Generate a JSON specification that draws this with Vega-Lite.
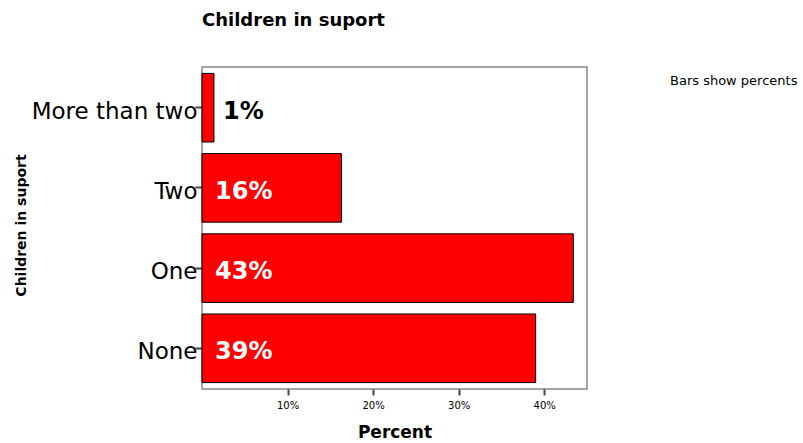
{
  "$schema": "https://vega.github.io/schema/vega-lite/v6.json",
  "autosize": "none",
  "width": 385,
  "height": 322,
  "padding": {"left": 202, "top": 67, "right": 216, "bottom": 54},
  "background": "white",
  "title": {
    "text": "Children in suport",
    "anchor": "start",
    "frame": "group",
    "font": "DejaVu Sans",
    "fontSize": 18,
    "fontWeight": "bold",
    "color": "black",
    "baseline": "alphabetic",
    "offset": 23
  },
  "config": {
    "view": {"stroke": "#888888", "strokeWidth": 1.5},
    "axis": {"grid": false, "domain": false}
  },
  "data": {
    "values": [
      {"category": "More than two", "percent": 1.4, "label": "1%"},
      {"category": "Two", "percent": 16.3, "label": "16%"},
      {"category": "One", "percent": 43.4, "label": "43%"},
      {"category": "None", "percent": 39.0, "label": "39%"}
    ]
  },
  "encoding": {
    "y": {
      "field": "category",
      "type": "nominal",
      "sort": ["More than two", "Two", "One", "None"],
      "scale": {"paddingInner": 0.145, "paddingOuter": 0.08},
      "axis": {
        "title": "Children in suport",
        "titleFont": "DejaVu Sans",
        "titleFontSize": 14,
        "titleFontWeight": "bold",
        "titleColor": "black",
        "titleX": -181,
        "titleY": 158,
        "titleAngle": -90,
        "titleAlign": "center",
        "titleBaseline": "middle",
        "labelFont": "DejaVu Sans",
        "labelFontSize": 23,
        "labelColor": "black",
        "labelPadding": -2,
        "labelOffset": 4,
        "tickSize": 7,
        "tickWidth": 2,
        "tickColor": "#444444"
      }
    }
  },
  "layer": [
    {
      "mark": {"type": "bar", "stroke": "black", "strokeWidth": 1},
      "encoding": {
        "x": {
          "field": "percent",
          "type": "quantitative",
          "scale": {"domain": [0, 45], "nice": false},
          "axis": {
            "values": [10, 20, 30, 40],
            "labelExpr": "datum.value + '%'",
            "title": "Percent",
            "titleFont": "DejaVu Sans",
            "titleFontSize": 17,
            "titleFontWeight": "bold",
            "titleColor": "black",
            "titlePadding": 14,
            "labelFont": "DejaVu Sans",
            "labelFontSize": 10,
            "labelColor": "black",
            "labelPadding": 5,
            "tickSize": 6,
            "tickWidth": 2,
            "tickColor": "#444444"
          }
        },
        "color": {
          "datum": "bar",
          "scale": {"range": ["#ff0000"]},
          "legend": {
            "title": "Bars show percents",
            "titleFont": "DejaVu Sans",
            "titleFontSize": 13,
            "titleFontWeight": "normal",
            "titleColor": "black",
            "labelExpr": "''",
            "symbolOpacity": 0,
            "symbolStrokeWidth": 0,
            "orient": "none",
            "legendX": 468,
            "legendY": 8
          }
        }
      }
    },
    {
      "transform": [{"filter": "datum.percent >= 5"}],
      "mark": {
        "type": "text",
        "align": "left",
        "baseline": "middle",
        "dx": 13,
        "dy": 4,
        "font": "DejaVu Sans",
        "fontSize": 24,
        "fontWeight": "bold",
        "color": "white"
      },
      "encoding": {
        "x": {"datum": 0, "type": "quantitative"},
        "text": {"field": "label"}
      }
    },
    {
      "transform": [{"filter": "datum.percent < 5"}],
      "mark": {
        "type": "text",
        "align": "left",
        "baseline": "middle",
        "dx": 9,
        "dy": 4,
        "font": "DejaVu Sans",
        "fontSize": 24,
        "fontWeight": "bold",
        "color": "black"
      },
      "encoding": {
        "x": {"field": "percent", "type": "quantitative"},
        "text": {"field": "label"}
      }
    }
  ]
}
